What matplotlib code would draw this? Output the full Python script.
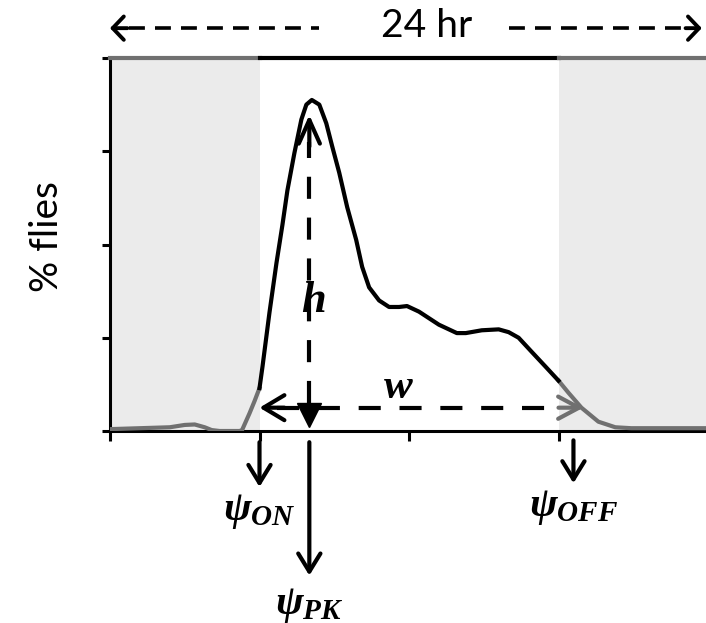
import numpy as np
import matplotlib.pyplot as plt

# Daily activity profile (hours since start of day, relative % flies)
hours = [0.0, 1.2, 2.4, 3.0, 3.4, 3.8, 4.08, 4.4, 5.2, 5.3, 5.6, 5.8, 6.0,
         6.12, 6.4, 6.68, 6.92, 7.12, 7.4, 7.68, 7.88, 8.1, 8.4, 8.68, 8.92,
         9.2, 9.52, 9.88, 10.12, 10.4, 10.8, 11.2, 11.6, 11.92, 12.4, 13.2,
         13.92, 14.28, 14.92, 15.6, 16.0, 16.4, 16.92, 17.48, 18.0, 18.4,
         18.92, 19.6, 20.28, 20.92, 22.0, 24.0]
activity = [0.02, 0.03, 0.04, 0.065, 0.07, 0.04, 0.01, 0.0, 0.0, 0.01, 0.19,
            0.32, 0.46, 0.69, 1.27, 1.80, 2.21, 2.58, 2.98, 3.34, 3.50, 3.55,
            3.50, 3.30, 3.05, 2.77, 2.40, 2.05, 1.76, 1.54, 1.40, 1.33, 1.33,
            1.34, 1.28, 1.14, 1.05, 1.05, 1.08, 1.09, 1.06, 1.00, 0.85, 0.69,
            0.54, 0.41, 0.25, 0.10, 0.04, 0.03, 0.03, 0.03]

lights_on = 6.0
lights_off = 18.0
psi_on = 6.0
psi_pk = 8.0
psi_off = 18.6
w_end = 19.0

hours = np.array(hours)
activity = np.array(activity)
peak = activity.max()

fig = plt.figure(figsize=(7.06, 6.23), dpi=100)
ax = fig.add_axes([110 / 706, 192 / 623, 598 / 706, 373 / 623])
ax.set_xlim(0, 24)
ax.set_ylim(0, 4)

# dark phases
ax.axvspan(0, lights_on, color="#ebebeb", zorder=0, lw=0)
ax.axvspan(lights_off, 24, color="#ebebeb", zorder=0, lw=0)

# curve: gray in the dark, black in the light
gray = "#707070"
dark1 = hours <= lights_on
light = (hours >= lights_on) & (hours <= lights_off)
dark2 = hours >= lights_off
ax.plot(hours[dark1], activity[dark1], color=gray, lw=3, zorder=3)
ax.plot(hours[dark2], activity[dark2], color=gray, lw=3, zorder=3)
ax.plot(hours[light], activity[light], color="black", lw=3, zorder=4,
        solid_joinstyle="round")

# frame
for s in ["top", "right"]:
    ax.spines[s].set_visible(False)
for s in ["left", "bottom"]:
    ax.spines[s].set_linewidth(2.2)
ax.plot([0, lights_on], [4, 4], color=gray, lw=3, clip_on=False, zorder=5)
ax.plot([lights_on, lights_off], [4, 4], color="black", lw=3, clip_on=False, zorder=5)
ax.plot([lights_off, 24], [4, 4], color=gray, lw=3, clip_on=False, zorder=5)

ax.set_xticks([0, 6, 12, 18, 24])
ax.set_yticks([0, 1, 2, 3, 4])
ax.set_xticklabels([])
ax.set_yticklabels([])
ax.tick_params(axis="x", direction="out", length=7, width=2.2)
ax.tick_params(axis="y", direction="out", length=6, width=2.2)
ax.set_ylabel("% flies", fontsize=28, family="Lato")
ax.yaxis.set_label_coords(-0.075, 0.52)


def head(xy, start, hl, hw, color="black", lw=3):
    ax.annotate("", xy=xy, xytext=start, annotation_clip=False,
                arrowprops=dict(arrowstyle=f"->,head_length={hl},head_width={hw}",
                                color=color, lw=lw, mutation_scale=20,
                                shrinkA=0, shrinkB=0, capstyle="round"),
                zorder=6)


dash = (5.3, 4.5)
serif = dict(family="Liberation Serif", style="italic", weight="bold",
             ha="center", va="center")

# h: peak height
y_w = 0.25
ax.plot([psi_pk, psi_pk], [0.3, peak - 0.45], color="black", lw=3,
        dashes=dash, zorder=6)
head((psi_pk, peak - 0.16), (psi_pk, peak - 0.5), 0.85, 0.38)
ax.plot([psi_pk], [0.17], marker="v", color="black", markersize=17, zorder=6)
ax.text(psi_pk + 0.15, 1.39, "h", fontsize=32, **serif)

# w: width of activity bout
ax.plot([psi_on + 0.7, lights_off], [y_w, y_w], color="black", lw=3,
        dashes=dash, zorder=6)
head((psi_on, y_w), (psi_on + 1.0, y_w), 0.75, 0.45)
head((w_end, y_w), (lights_off, y_w), 0.75, 0.4, color=gray)
ax.text(11.56, 0.46, "w", fontsize=31, **serif)

# 24 hr span above the plot
y_top = 4.32
ax.text(12.7, y_top + 0.02, "24 hr", fontsize=28, family="Lato", ha="center",
        va="center", clip_on=False)
ax.plot([0.75, 8.4], [y_top, y_top], color="black", lw=2.6, dashes=(4.4, 2.8),
        clip_on=False)
ax.plot([16.0, 23.3], [y_top, y_top], color="black", lw=2.6, dashes=(4.4, 2.8),
        clip_on=False)
head((0.0, y_top), (0.7, y_top), 0.4, 0.42, lw=2.8)
head((23.75, y_top), (23.1, y_top), 0.4, 0.42, lw=2.8)

# phase markers below the axis
plt.rcParams["mathtext.fontset"] = "custom"
plt.rcParams["mathtext.it"] = "Liberation Serif:bold:italic"
plt.rcParams["mathtext.rm"] = "Liberation Serif:bold:italic"
markers = [(psi_on, -0.12, -0.6, r"$\psi_{ON}$", -0.85),
           (psi_pk, -0.12, -1.55, r"$\psi_{PK}$", -1.85),
           (psi_off, -0.1, -0.56, r"$\psi_{OFF}$", -0.8)]
for x, y0, y1, lab, ylab in markers:
    head((x, y1), (x, y0), 0.65, 0.4)
    ax.text(x, ylab, lab, fontsize=30, ha="center", va="center", clip_on=False)

fig.savefig("out.png", dpi=100)
